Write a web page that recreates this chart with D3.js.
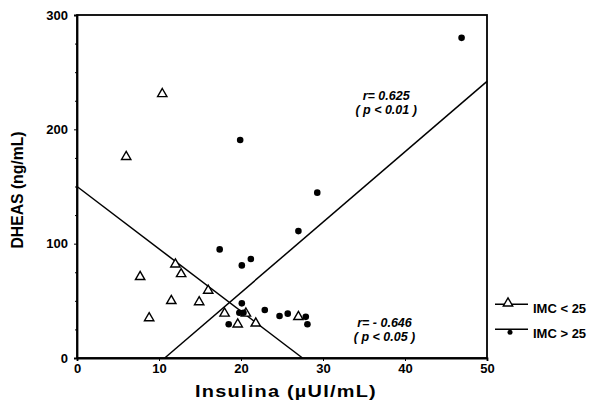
<!DOCTYPE html>
<html>
<head>
<meta charset="utf-8">
<script src="https://cdn.jsdelivr.net/npm/d3@7"></script>
<style>
  body { margin: 0; background: #fff; }
  text { font-family: "Liberation Sans", Arial, sans-serif; }
</style>
</head>
<body>
<div id="chart"></div>
<script>
// Data
var lowBmiInsulin = [6.0, 10.4, 7.7, 8.8, 12.0, 12.7, 11.5, 14.9, 16.0, 18.0, 19.6, 20.6, 21.8, 27.0];
var lowBmiDheas   = [176, 231, 71, 35, 82, 73.5, 50, 49, 59, 39, 29.5, 39, 30.3, 36];

var highBmiInsulin = [19.9, 46.9, 29.3, 17.4, 20.1, 21.2, 27.0, 20.1, 18.5, 19.8, 20.3, 22.9, 24.7, 25.7, 27.9, 28.1];
var highBmiDheas   = [190.7, 280, 144.6, 95, 81, 86.6, 111, 47.8, 29.5, 39.6, 39.6, 42, 36.7, 38.8, 36, 29.5];

// regression lines (end points)
var lineLow  = [[0, 150], [27.5, 0]];
var lineHigh = [[10.7, 0], [50, 242]];

var xTicks = [0, 10, 20, 30, 40, 50];
var yTicks = [0, 100, 200, 300];
var yMinorTicks = [25, 50, 75, 125, 150, 175, 225, 250, 275];

var legendLabels = ["IMC < 25", "IMC > 25"];

// Set graph margins and dimensions
var margin = {top: 15, right: 112, bottom: 44, left: 77},
    width = 599 - margin.left - margin.right,
    height = 402 - margin.top - margin.bottom;

var x = d3.scaleLinear().domain([0, 50]).range([0, width]);
var y = d3.scaleLinear().domain([0, 300]).range([height, 0]);

var svg = d3.select("#chart").append("svg")
    .attr("width", width + margin.left + margin.right)
    .attr("height", height + margin.top + margin.bottom)
  .append("g")
    .attr("transform", "translate(" + margin.left + "," + margin.top + ")");

// frame
svg.append("rect")
    .attr("width", width)
    .attr("height", height)
    .attr("fill", "none")
    .attr("stroke", "#000")
    .attr("stroke-width", 1.8);

// x axis
var xAxis = svg.append("g")
    .attr("transform", "translate(0," + height + ")")
    .call(d3.axisBottom(x).tickValues(xTicks).tickSize(3).tickPadding(3));
xAxis.select(".domain").attr("stroke-width", 1.8);
xAxis.selectAll("text")
    .style("font-size", "13px")
    .style("font-weight", "bold")
    .attr("fill", "#000");

// y axis
var yAxis = svg.append("g")
    .call(d3.axisLeft(y).tickValues(yTicks).tickSize(3).tickPadding(6).tickFormat(d3.format("d")));
yAxis.select(".domain").attr("stroke-width", 1.8);
yAxis.selectAll("text")
    .style("font-size", "13px")
    .style("font-weight", "bold")
    .attr("fill", "#000");

svg.append("g")
    .call(d3.axisLeft(y).tickValues(yMinorTicks).tickSize(2).tickFormat(""))
    .select(".domain").remove();

// axis titles
svg.append("text")
    .attr("x", 286 - margin.left)
    .attr("y", height + 39)
    .attr("text-anchor", "middle")
    .attr("textLength", 182)
    .attr("lengthAdjust", "spacingAndGlyphs")
    .style("font-size", "16px")
    .style("font-weight", "bold")
    .style("letter-spacing", "1px")
    .text("Insulina  (\u00b5UI/mL)");

svg.append("text")
    .attr("transform", "translate(" + (23 - margin.left) + "," + (190 - margin.top) + ") rotate(-90)")
    .attr("text-anchor", "middle")
    .attr("textLength", 117)
    .attr("lengthAdjust", "spacingAndGlyphs")
    .style("font-size", "17px")
    .style("font-weight", "bold")
    .text("DHEAS (ng/mL)");

// regression lines
var line = d3.line()
    .x(function(d) { return x(d[0]); })
    .y(function(d) { return y(d[1]); });

[lineLow, lineHigh].forEach(function(pts) {
  svg.append("path")
      .datum(pts)
      .attr("d", line)
      .attr("fill", "none")
      .attr("stroke", "#000")
      .attr("stroke-width", 1.5);
});

// points
var triangle = d3.symbol().type(d3.symbolTriangle).size(38);

svg.selectAll(".low")
    .data(lowBmiInsulin)
  .enter().append("path")
    .attr("class", "low")
    .attr("d", triangle)
    .attr("transform", function(d, i) { return "translate(" + x(d) + "," + y(lowBmiDheas[i]) + ")"; })
    .attr("fill", "#fff")
    .attr("stroke", "#000")
    .attr("stroke-width", 1.4);

svg.selectAll(".high")
    .data(highBmiInsulin)
  .enter().append("circle")
    .attr("class", "high")
    .attr("cx", function(d) { return x(d); })
    .attr("cy", function(d, i) { return y(highBmiDheas[i]); })
    .attr("r", 3.3)
    .attr("fill", "#000");

// correlation notes
function note(xv, yv, lines) {
  var t = svg.append("text")
      .attr("x", x(xv))
      .attr("y", y(yv))
      .attr("text-anchor", "middle")
      .style("font-size", "12.5px")
      .style("font-weight", "bold")
      .style("font-style", "italic");
  lines.forEach(function(s, i) {
    t.append("tspan").attr("x", x(xv)).attr("dy", i ? 14 : 0).text(s);
  });
}
note(37.7, 225.6, ["r= 0.625", "( p < 0.01 )"]);
note(37.5, 27, ["r= - 0.646", "( p < 0.05 )"]);

// legend
var legend = svg.append("g")
    .attr("transform", "translate(" + (width + 8) + "," + (y(47)) + ")");

legendLabels.forEach(function(label, i) {
  var g = legend.append("g").attr("transform", "translate(0," + (i * 25) + ")");
  g.append("line")
      .attr("x1", 0).attr("x2", 33)
      .attr("stroke", "#000").attr("stroke-width", 1.3);
  if (i === 0) {
    g.append("path")
        .attr("d", triangle)
        .attr("transform", "translate(13,-1)")
        .attr("fill", "#fff").attr("stroke", "#000").attr("stroke-width", 1.4);
  } else {
    g.append("circle")
        .attr("cx", 15).attr("cy", 3).attr("r", 2.5)
        .attr("fill", "#000");
  }
  g.append("text")
      .attr("x", 38)
      .attr("y", 9)
      .style("font-size", "13px")
      .style("font-weight", "bold")
      .text(label);
});
</script>
</body>
</html>
